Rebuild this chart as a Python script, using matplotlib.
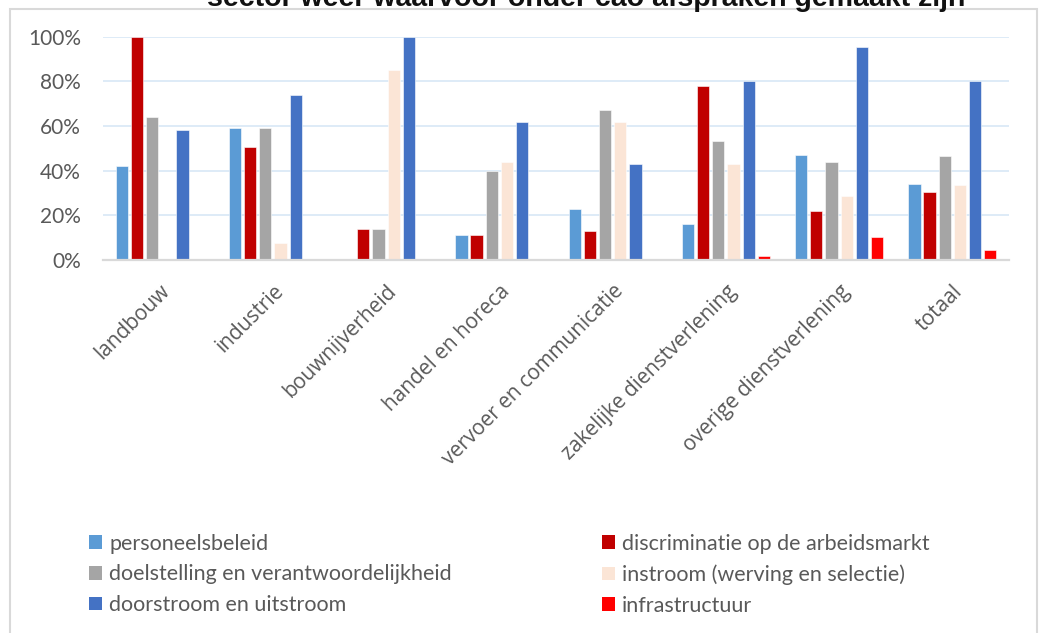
import numpy as np
import matplotlib
matplotlib.use("Agg")
import matplotlib.pyplot as plt
from matplotlib.patches import Rectangle, Patch
from matplotlib.ticker import PercentFormatter

# sectors on the x axis
sectors = ["landbouw", "industrie", "bouwnijverheid", "handel en horeca",
           "vervoer en communicatie", "zakelijke dienstverlening",
           "overige dienstverlening", "totaal"]

# share of cao's with agreements per topic (fractions)
personeelsbeleid = [0.42, 0.59, 0.00, 0.11, 0.23, 0.16, 0.47, 0.34]
discriminatie = [1.00, 0.505, 0.14, 0.11, 0.13, 0.78, 0.22, 0.305]
doelstelling = [0.64, 0.59, 0.14, 0.40, 0.67, 0.535, 0.44, 0.465]
instroom = [0.00, 0.075, 0.85, 0.44, 0.62, 0.43, 0.285, 0.335]
doorstroom = [0.58, 0.74, 1.00, 0.62, 0.43, 0.80, 0.955, 0.80]
infrastructuur = [0.00, 0.00, 0.00, 0.00, 0.00, 0.016, 0.103, 0.045]

series = [
    ("personeelsbeleid", personeelsbeleid, "#5B9BD5"),
    ("discriminatie op de arbeidsmarkt", discriminatie, "#C00000"),
    ("doelstelling en verantwoordelijkheid", doelstelling, "#A5A5A5"),
    ("instroom (werving en selectie)", instroom, "#FBE5D6"),
    ("doorstroom en uitstroom", doorstroom, "#4472C4"),
    ("infrastructuur", infrastructuur, "#FF0000"),
]

W, H = 1040, 633
fig = plt.figure(figsize=(W / 100, H / 100), dpi=100)
fig.patch.set_facecolor("white")

# plot area in pixel terms
left, right, top, bottom = 103, 1009, 36.7, 260
ax = fig.add_axes([left / W, 1 - bottom / H, (right - left) / W, (bottom - top) / H])

x = np.arange(len(sectors))
step = 0.134
for i, (name, vals, col) in enumerate(series):
    ax.bar(x + (i - 2.5) * step, vals, width=0.108, color=col,
           edgecolor="white", linewidth=0.4, zorder=3, label=name)

ax.set_xlim(-0.5, len(sectors) - 0.5)
ax.set_ylim(0, 1)
ax.set_yticks(np.arange(0, 1.01, 0.2))
ax.yaxis.set_major_formatter(PercentFormatter(1.0, decimals=0))
ax.grid(axis="y", color="#DEEBF7", linewidth=1.4, zorder=0)
for s in ["top", "right", "left"]:
    ax.spines[s].set_visible(False)
ax.spines["bottom"].set_color("#D9D9D9")
ax.spines["bottom"].set_linewidth(1.6)
ax.spines["bottom"].set_zorder(4)
ax.tick_params(axis="both", length=0)
ax.tick_params(axis="y", labelsize=15, labelcolor="#595959", pad=16)
for lab in ax.get_yticklabels():
    lab.set_family("Lato")

ax.set_xticks(x)
ax.set_xticklabels(sectors, rotation=45, ha="right", rotation_mode="anchor",
                   fontsize=15, color="#595959", family="Open Sans")
ax.tick_params(axis="x", pad=15)

# title sits mostly above the top edge
fig.text(586 / W, 1 - 6 / H, "sector weer waarvoor onder cao afspraken gemaakt zijn",
         ha="center", va="baseline", fontsize=20.5, fontweight="bold",
         family="Liberation Sans", color="#111111")

# outer chart border
fig.add_artist(Rectangle((10 / W, -0.05), (1037 - 10) / W, 1.05 - 9 / H,
                         transform=fig.transFigure, fill=False,
                         edgecolor="#D9D9D9", linewidth=1.5))

# legend in two columns
cols = [[series[0], series[2], series[4]], [series[1], series[3], series[5]]]
for xpos, group in zip([80, 593], cols):
    handles = [Patch(facecolor=c, label=n) for n, _, c in group]
    leg = fig.legend(handles=handles, loc="upper left",
                     bbox_to_anchor=(xpos / W, 1 - 525 / H), frameon=False,
                     handlelength=0.6, handleheight=0.6, handletextpad=0.35,
                     labelspacing=0.5, prop={"family": "Lato", "size": 15.5},
                     labelcolor="#595959", borderaxespad=0)

fig.savefig("out.png", dpi=100)
